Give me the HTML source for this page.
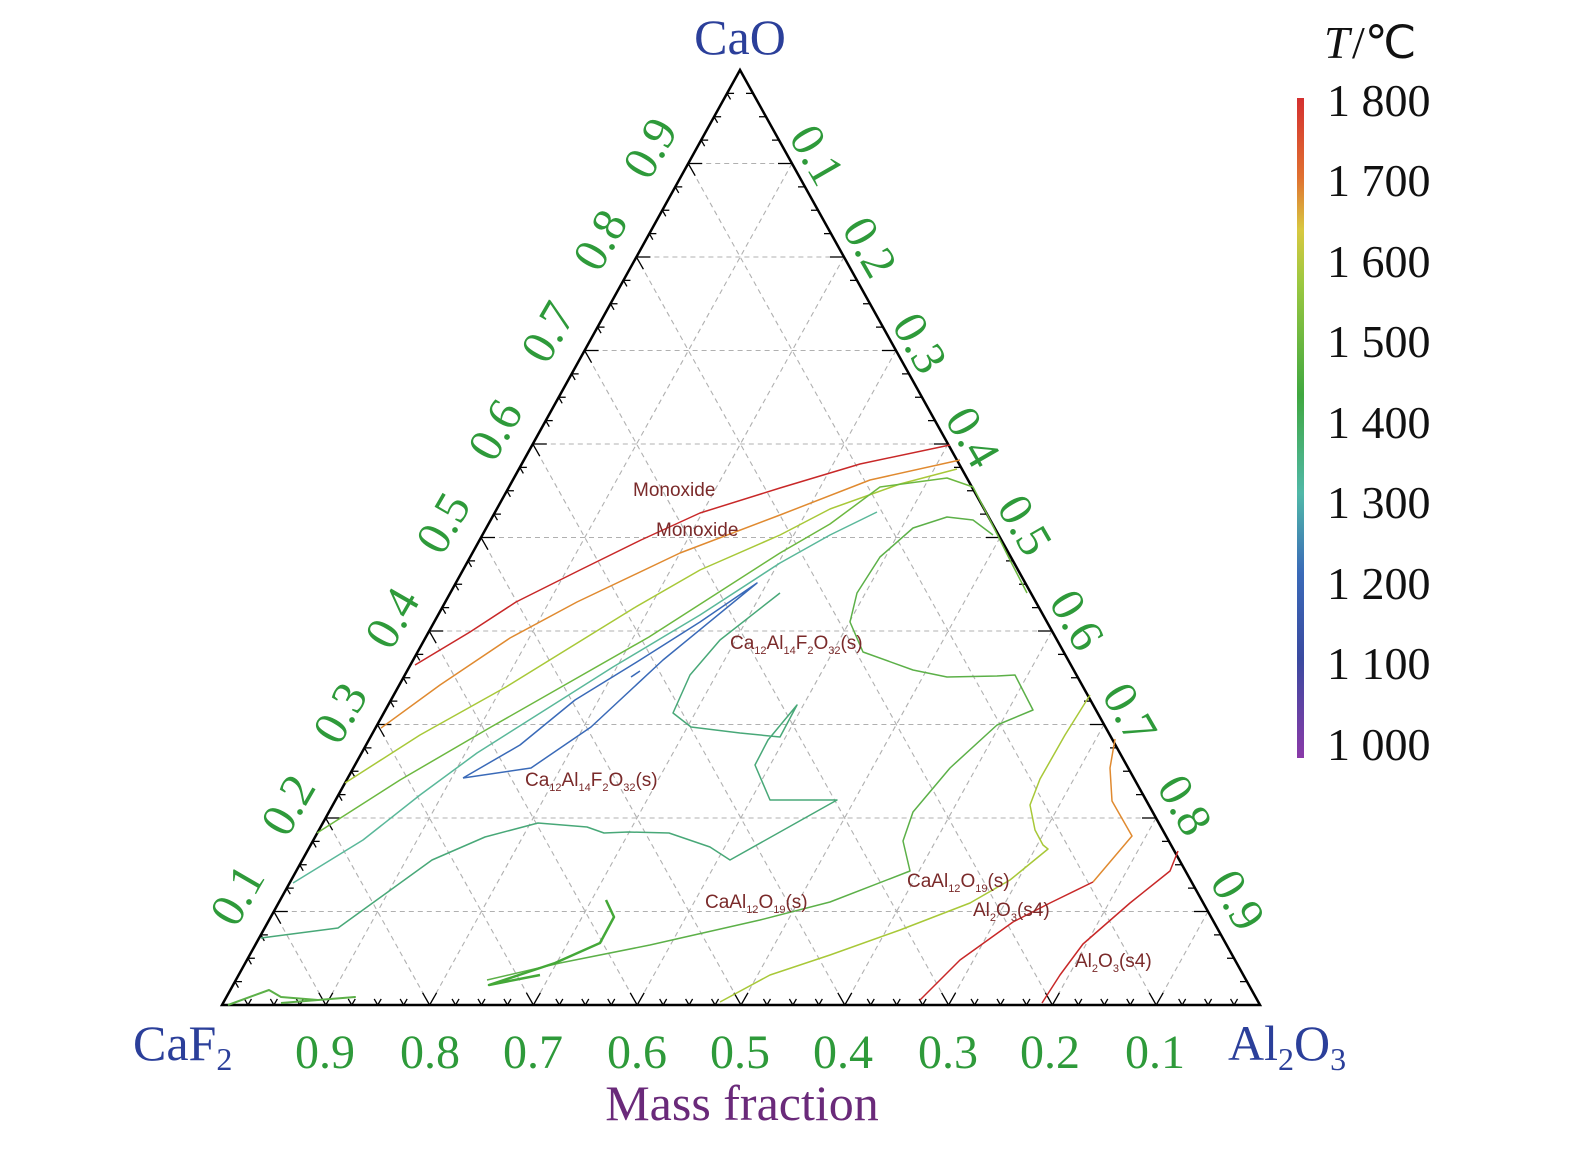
<!DOCTYPE html>
<html><head><meta charset="utf-8">
<style>
html,body{margin:0;padding:0;background:#fff;}
svg{display:block;}
.g{font-family:"Liberation Serif",serif;font-size:48px;fill:#2e9a3a;}
.b{font-family:"Liberation Serif",serif;font-size:50px;fill:#2b3f9a;}
.l{font-family:"Liberation Sans",sans-serif;font-size:19px;fill:#7a2a2a;}
.c{font-family:"Liberation Serif",serif;font-size:46px;fill:#111;}
</style></head><body>
<svg id="s" width="1575" height="1152" viewBox="0 0 1575 1152" xmlns="http://www.w3.org/2000/svg">
<defs>
<linearGradient id="cb" x1="0" y1="0" x2="0" y2="1">
<stop offset="0" stop-color="#d43030"/>
<stop offset="0.12" stop-color="#e07030"/>
<stop offset="0.2" stop-color="#d8c840"/>
<stop offset="0.28" stop-color="#9cc840"/>
<stop offset="0.45" stop-color="#40a840"/>
<stop offset="0.6" stop-color="#50b8a8"/>
<stop offset="0.72" stop-color="#3a6ab8"/>
<stop offset="0.85" stop-color="#3a4aa0"/>
<stop offset="1" stop-color="#8a3aa8"/>
</linearGradient>
</defs>
<g id="grid" stroke="#b0b0b0" stroke-width="1.1" stroke-dasharray="5,4" fill="none"></g>
<g id="ticks" stroke="#000" stroke-width="1.3" fill="none"></g>
<polygon points="740,70 222,1005 1260,1005" fill="none" stroke="#000" stroke-width="2.5"/>

<g fill="none" stroke-width="1.5" stroke-linejoin="round">
<polyline stroke="#c82828" points="415,665 470,632 516,602 580,570 641,540 700,513 780,488 860,464 950,445"/>
<polyline stroke="#e08a30" points="381,728 440,685 510,638 577,602 680,553 780,515 870,480 960,460"/>
<polyline stroke="#a8c838" points="345,783 420,735 506,687 634,608 700,570 780,535 830,509 900,484 957,469"/>
<polyline stroke="#6cb840" points="317,833 400,780 491,727 649,637 780,553 830,524 880,487 947,478 973,487 990,520 1010,560 1027,593"/>
<polyline stroke="#5ab89a" points="293,883 363,840 420,795 477,753 613,667 700,615 780,563 830,535 877,512"/>
<polyline stroke="#3a6ab8" points="463,778 531,768 591,727 663,660 757,583 700,622 640,660 575,700 520,745 463,778"/>
<polyline stroke="#3a6ab8" points="631,677 640,671"/>
<polyline stroke="#48a878" points="780,593 720,640 690,675 673,713 691,727 740,733 780,737 797,705 768,740 755,765 770,800 837,800 730,860 710,847 669,833 628,832 604,833 587,827 538,823 485,837 432,860 338,928 261,938"/>
<polyline stroke="#5cb048" points="487,980 560,963 650,945 760,920 830,902 910,871 903,841 913,812 950,768 997,725 1033,710 1015,675 997,676 947,677 913,670 863,652 850,622 857,593 880,557 913,528 947,517 973,520 993,535"/>
<polyline stroke="#44a838" stroke-width="2.5" points="606,900 614,917 600,943 555,963 489,985 540,975"/>
<polyline stroke="#a8c838" points="1090,695 1065,735 1040,779 1030,805 1035,830 1043,845 1048,849 1010,880 970,903 900,930 830,955 770,975 720,1002"/>
<polyline stroke="#e08a30" points="1115,739 1110,768 1112,801 1132,836 1093,882"/>
<polyline stroke="#c82828" points="1093,882 1050,903 1013,922 960,960 920,1000"/>
<polyline stroke="#c82828" points="1042,1003 1060,975 1083,944 1130,903 1170,871 1178,851"/>
<polyline stroke="#5cb048" stroke-width="2" points="228,1005 269,990 281,997 318,1000 355,997 281,1003"/>
</g>

<text class="l" x="633" y="496">Monoxide</text>
<text class="l" x="656" y="536">Monoxide</text>
<text class="l" x="730" y="649">Ca<tspan font-size="11" dy="5">12</tspan><tspan dy="-5">Al</tspan><tspan font-size="11" dy="5">14</tspan><tspan dy="-5">F</tspan><tspan font-size="11" dy="5">2</tspan><tspan dy="-5">O</tspan><tspan font-size="11" dy="5">32</tspan><tspan dy="-5">(s)</tspan></text>
<text class="l" x="525" y="786">Ca<tspan font-size="11" dy="5">12</tspan><tspan dy="-5">Al</tspan><tspan font-size="11" dy="5">14</tspan><tspan dy="-5">F</tspan><tspan font-size="11" dy="5">2</tspan><tspan dy="-5">O</tspan><tspan font-size="11" dy="5">32</tspan><tspan dy="-5">(s)</tspan></text>
<text class="l" x="705" y="908">CaAl<tspan font-size="11" dy="5">12</tspan><tspan dy="-5">O</tspan><tspan font-size="11" dy="5">19</tspan><tspan dy="-5">(s)</tspan></text>
<text class="l" x="907" y="887">CaAl<tspan font-size="11" dy="5">12</tspan><tspan dy="-5">O</tspan><tspan font-size="11" dy="5">19</tspan><tspan dy="-5">(s)</tspan></text>
<text class="l" x="973" y="916">Al<tspan font-size="11" dy="5">2</tspan><tspan dy="-5">O</tspan><tspan font-size="11" dy="5">3</tspan><tspan dy="-5">(s4)</tspan></text>
<text class="l" x="1075" y="967">Al<tspan font-size="11" dy="5">2</tspan><tspan dy="-5">O</tspan><tspan font-size="11" dy="5">3</tspan><tspan dy="-5">(s4)</tspan></text>

<g class="g" text-anchor="middle">
<text transform="translate(650,148) rotate(-60)" dy="16">0.9</text>
<text transform="translate(600,240) rotate(-60)" dy="16">0.8</text>
<text transform="translate(548,332) rotate(-60)" dy="16">0.7</text>
<text transform="translate(495,430) rotate(-60)" dy="16">0.6</text>
<text transform="translate(443,523) rotate(-60)" dy="16">0.5</text>
<text transform="translate(392,618) rotate(-60)" dy="16">0.4</text>
<text transform="translate(340,713) rotate(-60)" dy="16">0.3</text>
<text transform="translate(288,805) rotate(-60)" dy="16">0.2</text>
<text transform="translate(237,895) rotate(-60)" dy="16">0.1</text>
<text transform="translate(817,155) rotate(60)" dy="16">0.1</text>
<text transform="translate(870,247) rotate(60)" dy="16">0.2</text>
<text transform="translate(920,343) rotate(60)" dy="16">0.3</text>
<text transform="translate(973,437) rotate(60)" dy="16">0.4</text>
<text transform="translate(1025,525) rotate(60)" dy="16">0.5</text>
<text transform="translate(1077,620) rotate(60)" dy="16">0.6</text>
<text transform="translate(1130,713) rotate(60)" dy="16">0.7</text>
<text transform="translate(1185,805) rotate(60)" dy="16">0.8</text>
<text transform="translate(1238,900) rotate(60)" dy="16">0.9</text>
<text x="325" y="1068">0.9</text>
<text x="430" y="1068">0.8</text>
<text x="533" y="1068">0.7</text>
<text x="637" y="1068">0.6</text>
<text x="740" y="1068">0.5</text>
<text x="843" y="1068">0.4</text>
<text x="948" y="1068">0.3</text>
<text x="1050" y="1068">0.2</text>
<text x="1155" y="1068">0.1</text>
</g>
<text class="b" x="740" y="54" text-anchor="middle">CaO</text>
<text class="b" x="133" y="1060">CaF<tspan font-size="32" dy="10">2</tspan></text>
<text class="b" x="1228" y="1060">Al<tspan font-size="32" dy="10">2</tspan><tspan dy="-10">O</tspan><tspan font-size="32" dy="10">3</tspan></text>
<text x="742" y="1120" text-anchor="middle" font-family="Liberation Serif, serif" font-size="50" fill="#6a2a7a">Mass fraction</text>

<rect x="1297" y="98" width="7" height="660" fill="url(#cb)"/>
<text class="c" x="1324" y="58" font-style="italic">T</text>
<text class="c" x="1352" y="58">/℃</text>
<g class="c">
<text x="1327" y="116">1 800</text>
<text x="1327" y="196">1 700</text>
<text x="1327" y="277">1 600</text>
<text x="1327" y="357">1 500</text>
<text x="1327" y="438">1 400</text>
<text x="1327" y="518">1 300</text>
<text x="1327" y="599">1 200</text>
<text x="1327" y="679">1 100</text>
<text x="1327" y="760">1 000</text>
</g>
</svg>
<script>
(function(){
var A=[740,70],B=[222,1005],C=[1260,1005];
function P(a,b,c){return [a*A[0]+b*B[0]+c*C[0],a*A[1]+b*B[1]+c*C[1]];}
var ns="http://www.w3.org/2000/svg",g=document.getElementById('grid'),t=document.getElementById('ticks');
function ln(p,q,par){var l=document.createElementNS(ns,'line');l.setAttribute('x1',p[0]);l.setAttribute('y1',p[1]);l.setAttribute('x2',q[0]);l.setAttribute('y2',q[1]);par.appendChild(l);}
for(var i=1;i<10;i++){var v=i/10;
ln(P(v,1-v,0),P(v,0,1-v),g);
ln(P(1-v,v,0),P(0,v,1-v),g);
ln(P(1-v,0,v),P(0,1-v,v),g);}
for(var k=1;k<40;k++){var v=k/40,L=(k%4==0)?14:7;
var p=P(v,1-v,0);ln(p,[p[0]+L,p[1]],t);ln(p,[p[0]+L*0.5,p[1]+L*0.87],t);
var q=P(1-v,0,v);ln(q,[q[0]-L*0.5,q[1]-L*0.87],t);ln(q,[q[0]-L,q[1]],t);
var r=P(0,1-v,v);ln(r,[r[0]-L*0.5,r[1]-L*0.87],t);ln(r,[r[0]+L*0.5,r[1]-L*0.87],t);}
})();
</script>
</body></html>
